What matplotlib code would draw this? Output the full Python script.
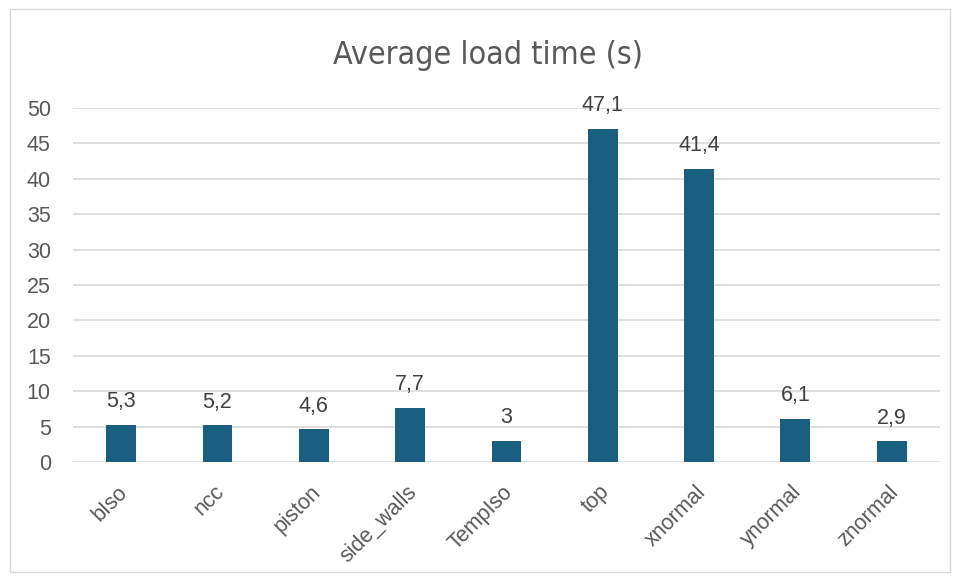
import matplotlib.pyplot as plt
from matplotlib.patches import Rectangle
from matplotlib.transforms import ScaledTranslation

categories = ['bIso', 'ncc', 'piston', 'side_walls', 'TempIso', 'top', 'xnormal', 'ynormal', 'znormal']
load_time = [5.3, 5.2, 4.6, 7.7, 3.0, 47.1, 41.4, 6.1, 2.9]
yticks = [0, 5, 10, 15, 20, 25, 30, 35, 40, 45, 50]

bar_color = '#1a5e80'
text_color = '#595959'
grid_color = '#d9d9d9'

plt.rcParams['font.family'] = ['Liberation Sans', 'DejaVu Sans']

fig = plt.figure(figsize=(9.59, 5.8), dpi=100)
fig.patches.append(Rectangle((0.010, 0.013), 0.981, 0.972, transform=fig.transFigure,
                             fill=False, edgecolor='#d9d9d9', linewidth=1))
ax = fig.add_axes([0.0761, 0.2034, 0.9040, 0.6103])

x = range(len(categories))
bars = ax.bar(x, load_time, width=0.31, color=bar_color, zorder=3)

# labels use a decimal comma, integers without a decimal part
for b, v in zip(bars, load_time):
    txt = str(int(v)) if v == int(v) else f'{v:.1f}'.replace('.', ',')
    ax.annotate(txt, (b.get_x() + b.get_width() / 2, v), xytext=(0, 9),
                textcoords='offset points', ha='center', va='bottom',
                fontsize=15.5, color='#404040', clip_on=False)

ax.set_xlim(-0.5, len(categories) - 0.5)
ax.set_ylim(0, 50)
ax.set_yticks(yticks)
ax.set_xticks(list(x))
ax.set_xticklabels(categories, rotation=45, ha='right', rotation_mode='anchor')
ax.tick_params(axis='x', length=0, pad=14, labelsize=15.5, labelcolor=text_color)
ax.tick_params(axis='y', length=0, pad=16, labelsize=15.5, labelcolor=text_color)

# nudge rotated labels a little to the left
shift = ScaledTranslation(-4 / 100, 0, fig.dpi_scale_trans)
for lbl in ax.get_xticklabels():
    lbl.set_transform(lbl.get_transform() + shift)

ax.grid(axis='y', color=grid_color, linewidth=1.2, zorder=0)
for s in ax.spines.values():
    s.set_visible(False)

fig.text(0.509, 0.905, 'Average load time (s)', ha='center', va='center', fontsize=23,
         color=text_color, family='DejaVu Sans', fontstretch='condensed')

fig.savefig('out.png', dpi=100)
